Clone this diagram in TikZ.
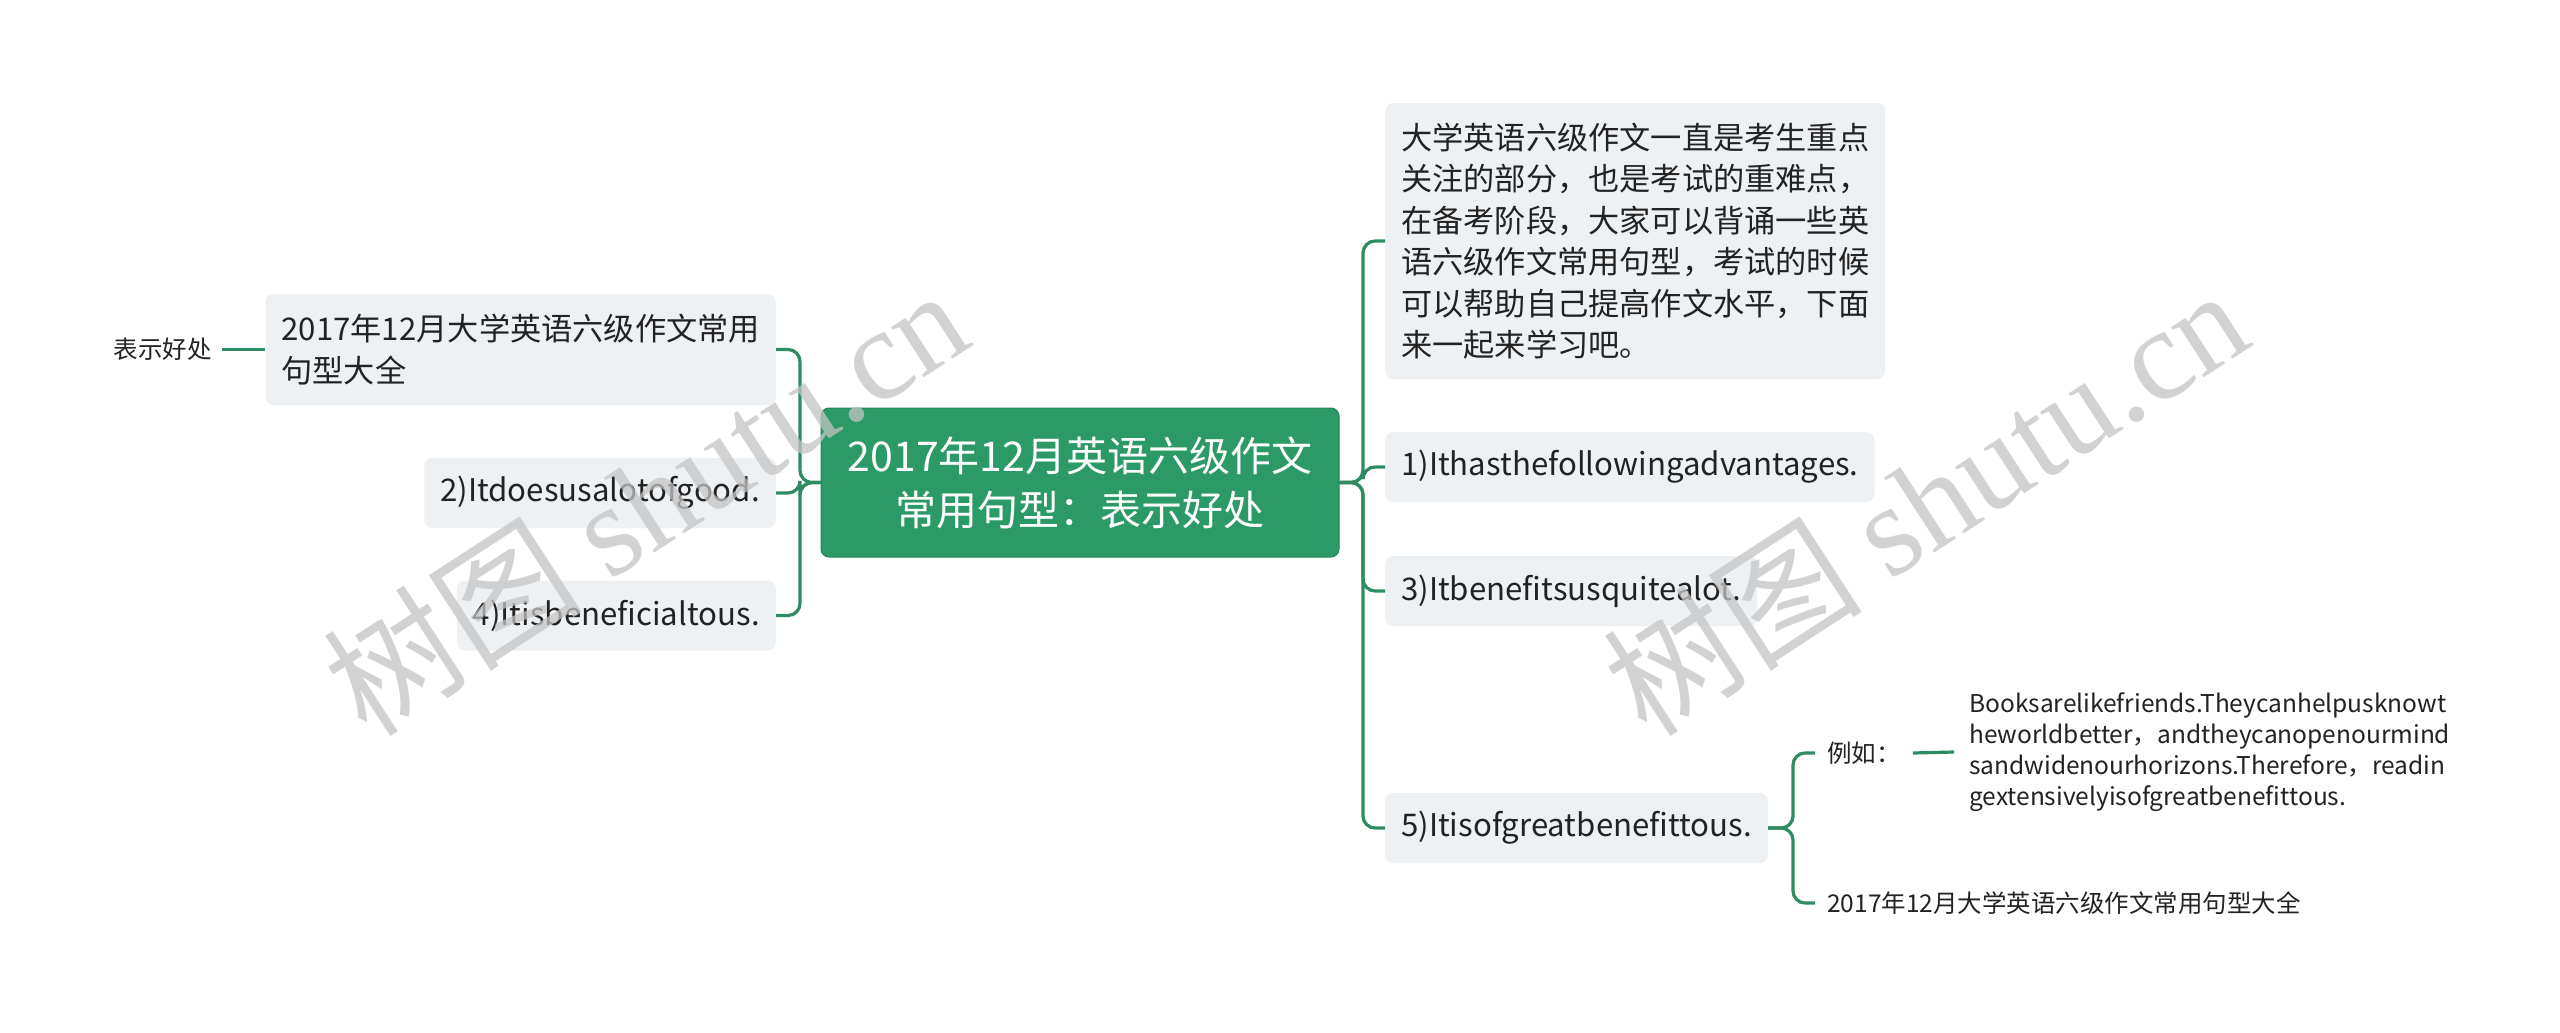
\documentclass[tikz,border=0pt]{standalone}
\usepackage{fontspec}
\setmainfont{Noto Sans CJK SC}
\newfontfamily\wmserif{Liberation Serif}
\newfontfamily\wmcjk{Noto Sans CJK SC}
\definecolor{rootgreen}{HTML}{2B9A67}
\definecolor{linegreen}{HTML}{2F8C62}
\definecolor{boxgray}{HTML}{EEF1F4}
\definecolor{txtcol}{HTML}{222222}
\definecolor{wmgray}{HTML}{C4C4C4}
\begin{document}
\begin{tikzpicture}[x=1pt,y=-1pt,
  rootbox/.style={fill=rootgreen, draw=rootgreen!85!black, line width=1pt, rounded corners=8pt,
    text=white, font=\fontsize{41}{54}\selectfont, align=center,
    minimum width=518pt, minimum height=149pt, inner sep=0pt},
  topicbox/.style={fill=boxgray, rounded corners=8pt, text=txtcol,
    font=\fontsize{31.2}{41.5}\selectfont, inner xsep=16pt, inner ysep=4pt, minimum height=70pt},
  plaintext/.style={text=txtcol, font=\fontsize{24.5}{31}\selectfont, inner xsep=12pt, inner ysep=2pt, align=left},
  conn/.style={draw=linegreen, line width=3.2pt, rounded corners=12pt},
  wmark/.style={text=wmgray, opacity=0.75, rotate=33, font=\fontsize{130}{130}\selectfont}
]
\useasboundingbox[fill=white] (0,0) rectangle (2560,1033);

% central topic
\node[rootbox] (C) at (1080,482.5) {2017年12月英语六级作文\\常用句型：表示好处};

% left branch
\node[topicbox, anchor=east, align=left, minimum height=111pt] (L1) at (776,349.5)
  {2017年12月大学英语六级作文常用\\句型大全};
\node[topicbox, anchor=east] (L2) at (776,493) {2)Itdoesusalotofgood.};
\node[topicbox, anchor=east] (L3) at (776,615.5) {4)Itisbeneficialtous.};
\node[plaintext, anchor=east, inner xsep=10pt] (B) at (222,349.5) {表示好处};

% right branch
\node[topicbox, anchor=west, align=left, minimum height=276pt] (R0) at (1385,241)
  {大学英语六级作文一直是考生重点\\关注的部分，也是考试的重难点，\\在备考阶段，大家可以背诵一些英\\语六级作文常用句型，考试的时候\\可以帮助自己提高作文水平，下面\\来一起来学习吧。};
\node[topicbox, anchor=west] (R1) at (1385,467) {1)Ithasthefollowingadvantages.};
\node[topicbox, anchor=west] (R3) at (1385,591) {3)Itbenefitsusquitealot.};
\node[topicbox, anchor=west] (R5) at (1385,828) {5)Itisofgreatbenefittous.};

\node[plaintext, anchor=west] (E) at (1815,753) {例如：};
\node[plaintext, anchor=west, inner xsep=15pt] (ET) at (1954,752)
  {Booksarelikefriends.Theycanhelpusknowt\\heworldbetter，andtheycanopenourmind\\sandwidenourhorizons.Therefore，readin\\gextensivelyisofgreatbenefittous.};
\node[plaintext, anchor=west] (D) at (1815,903) {2017年12月大学英语六级作文常用句型大全};

% junction coordinates
\coordinate (lj) at (800,482.5);
\coordinate (rj) at (1363,482.5);
\coordinate (sj) at (1793,828);

% connectors
\draw[conn] (C.west) -- (lj) |- (L1.east);
\draw[conn] (C.west) -- (lj) |- (L2.east);
\draw[conn] (C.west) -- (lj) |- (L3.east);
\draw[conn] (B.east) -- (L1.west);

\draw[conn] (C.east) -- (rj) |- (R0.west);
\draw[conn] (C.east) -- (rj) |- (R1.west);
\draw[conn] (C.east) -- (rj) |- (R3.west);
\draw[conn] (C.east) -- (rj) |- (R5.west);

\draw[conn] (R5.east) -- (sj) |- (E.west);
\draw[conn] (R5.east) -- (sj) |- (D.west);
\draw[conn] (E.east) -- (ET.west);

% watermarks
\node[wmark] (W1) at (645,500) {{\wmcjk 树图} {\wmserif shutu.cn}};
\node[wmark] (W2) at (1925,500) {{\wmcjk 树图} {\wmserif shutu.cn}};
\end{tikzpicture}
\end{document}
